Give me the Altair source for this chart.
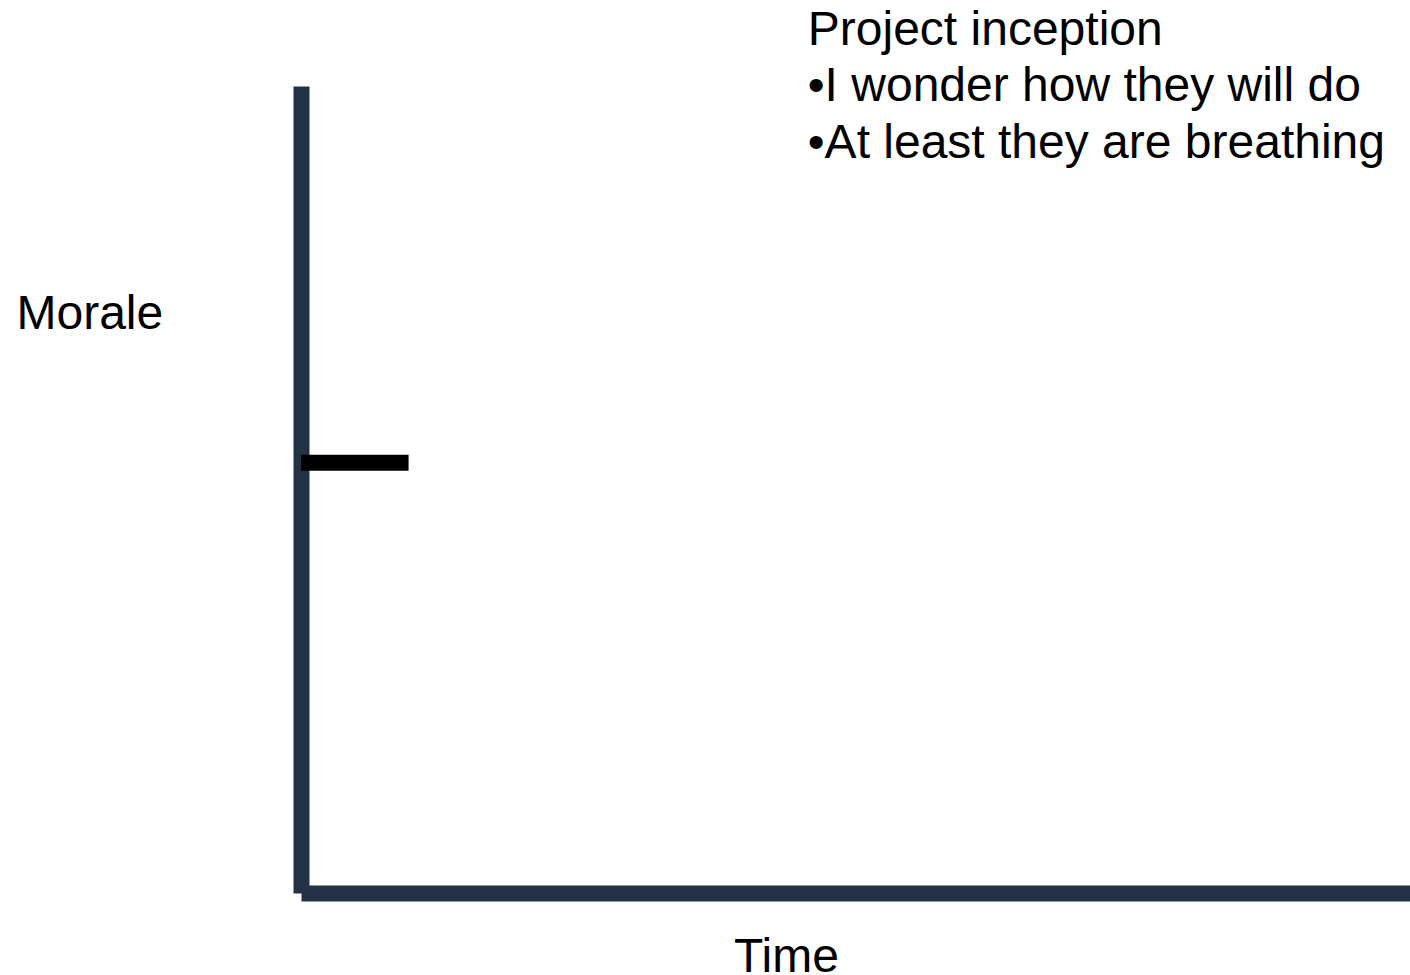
import altair as alt
import pandas as pd

# ---- data ----
time_domain = [0, 100]
morale_domain = [0, 100]

start_time = [0.0]
end_time = [9.7]
start_morale = [53.3]

note_lines = [
    "Project inception",
    "\u2022I wonder how they will do",
    "\u2022At least they are breathing",
]
note_time = [45.7]
note_morale = [105.1]

AXIS_COLOR = "#233244"
FONT = "Liberation Sans"

seg_df = pd.DataFrame({"t0": start_time, "t1": end_time, "m": start_morale})
note_df = pd.DataFrame({"t": note_time, "m": note_morale, "txt": ["\n".join(note_lines)]})

x_scale = alt.Scale(domain=time_domain, nice=False, zero=False)
y_scale = alt.Scale(domain=morale_domain, nice=False, zero=False)

x_axis = alt.Axis(
    title="Time", domain=True, domainColor=AXIS_COLOR, domainWidth=16,
    ticks=False, labels=False, grid=False,
    titleFont=FONT, titleFontSize=48, titleFontWeight="normal", titleColor="black",
    titleAlign="center", titleBaseline="alphabetic", titleX=485, titleY=78,
)
y_axis = alt.Axis(
    title="Morale", domain=True, domainColor=AXIS_COLOR, domainWidth=16,
    ticks=False, labels=False, grid=False,
    titleFont=FONT, titleFontSize=48, titleFontWeight="normal", titleColor="black",
    titleAngle=0, titleAlign="left", titleBaseline="alphabetic", titleX=-285, titleY=242,
)

seg = alt.Chart(seg_df).mark_rule(color="black", strokeWidth=16, strokeCap="butt").encode(
    x=alt.X("t0:Q", scale=x_scale, axis=x_axis),
    x2="t1:Q",
    y=alt.Y("m:Q", scale=y_scale, axis=y_axis),
)

note = alt.Chart(note_df).mark_text(
    font=FONT, fontSize=48, color="black", align="left", baseline="alphabetic",
    lineBreak="\n", lineHeight=56.5,
).encode(
    x=alt.X("t:Q", scale=x_scale),
    y=alt.Y("m:Q", scale=y_scale),
    text="txt:N",
)

chart = alt.layer(seg, note).properties(
    width=1109, height=807,
    autosize=alt.AutoSizeParams(type="none"),
    padding={"left": 301, "top": 86, "right": 0, "bottom": 82},
    background="white",
).configure_view(strokeWidth=0)

chart.save("out.html", embed_options={"renderer": "svg", "actions": False})
